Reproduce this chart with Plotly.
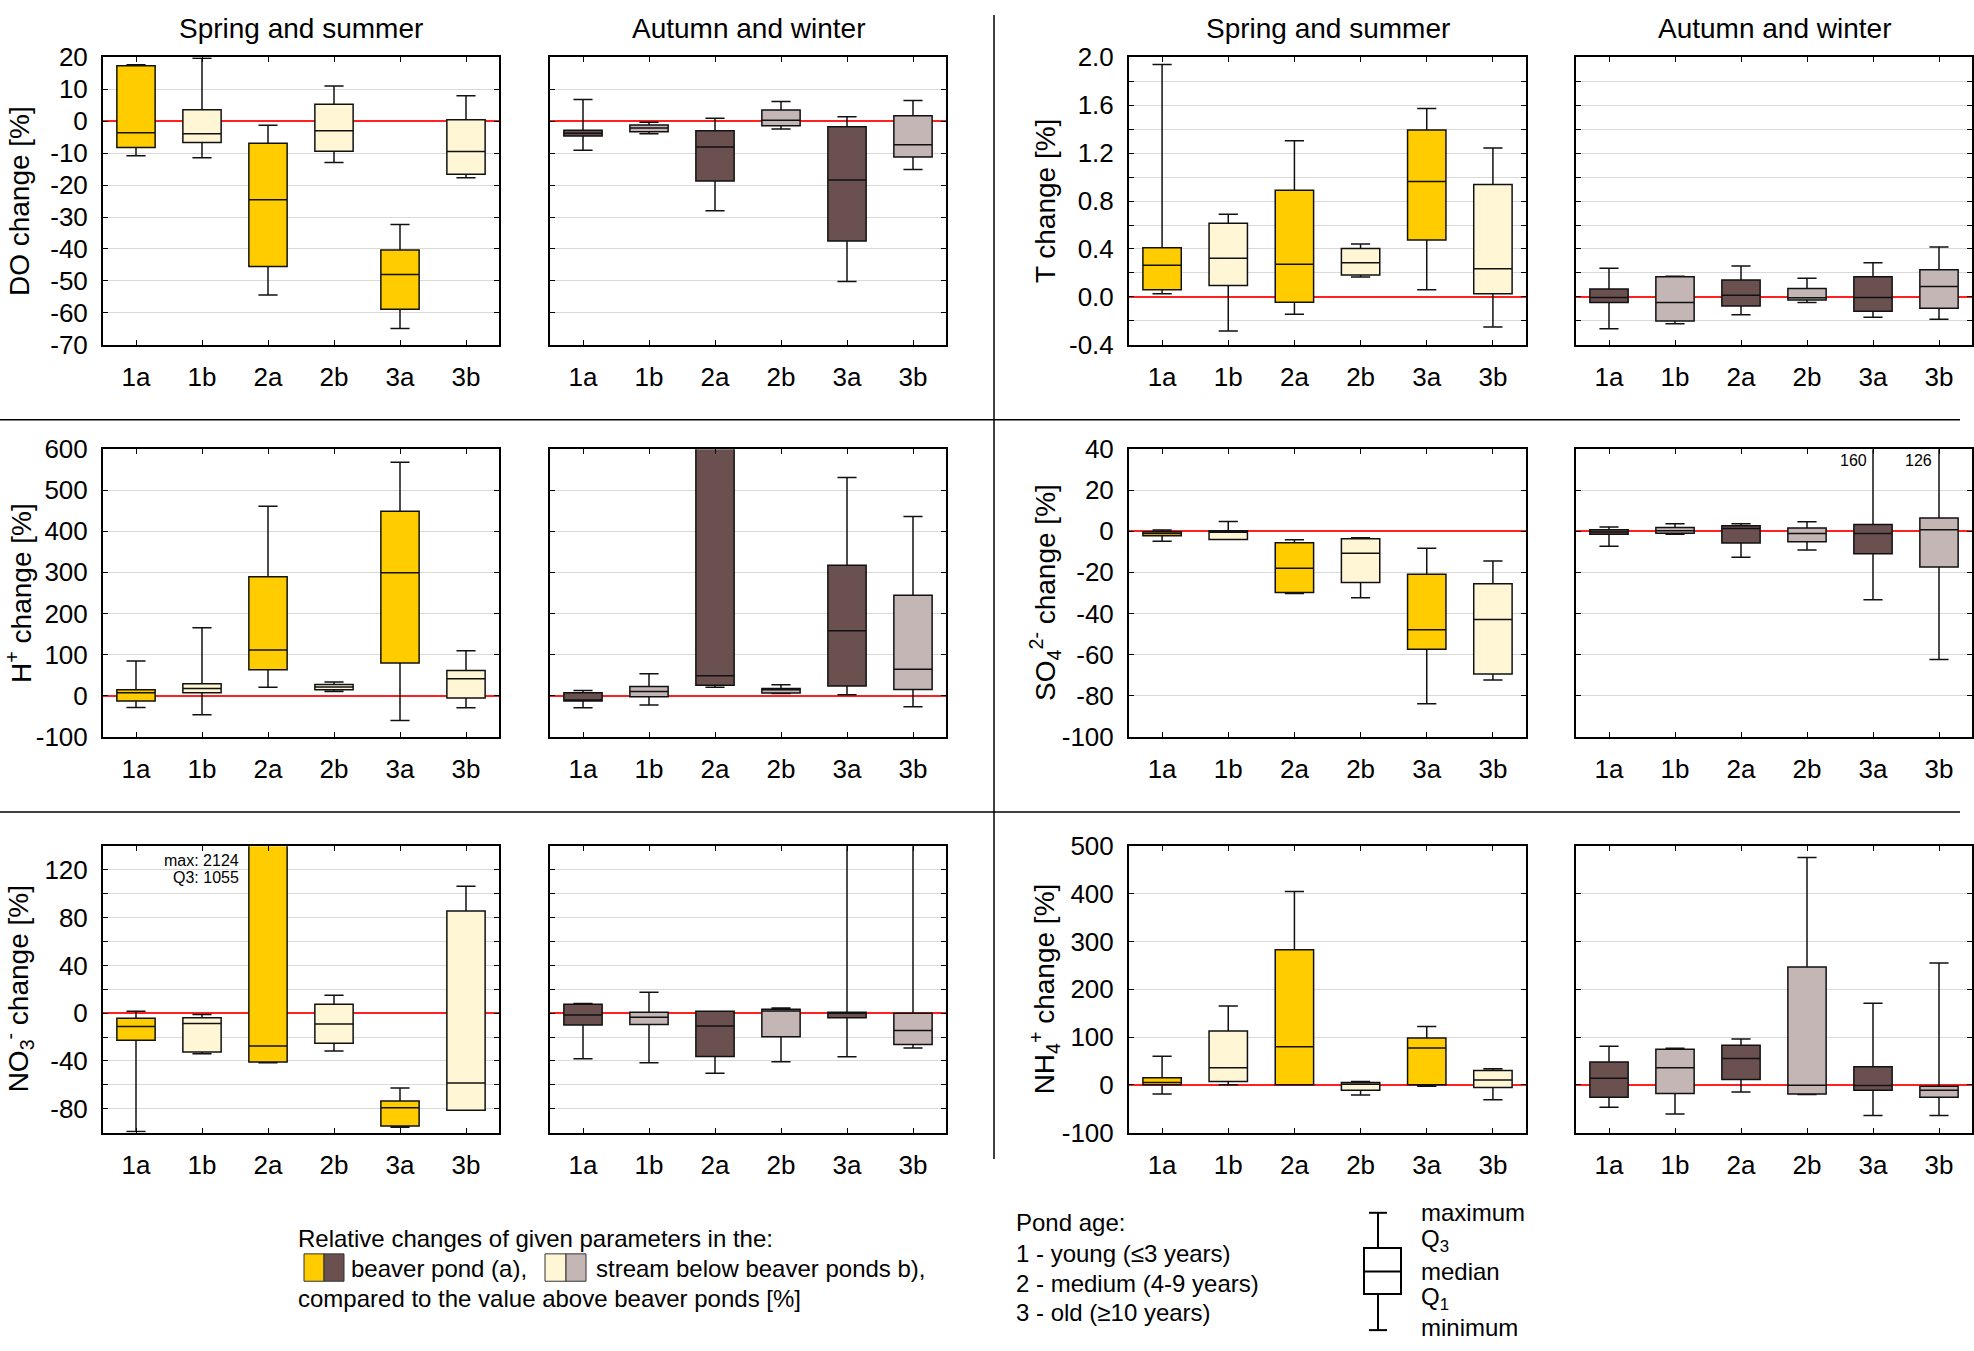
import plotly.graph_objects as go

W, H = 1974, 1351
FONT = "Arial, Liberation Sans, Helvetica, sans-serif"

categories = ["1a", "1b", "2a", "2b", "3a", "3b"]

# five-number summaries (min, Q1, median, Q3, max), per panel
# DO change [%]
do_ss_min = [-10.8, -11.4, -54.4, -12.9, -64.9, -17.7]
do_ss_q1 = [-8.2, -6.7, -45.5, -9.4, -58.9, -16.6]
do_ss_med = [-3.6, -3.9, -24.6, -3.0, -48.0, -9.5]
do_ss_q3 = [17.4, 3.6, -6.9, 5.3, -40.3, 0.5]
do_ss_max = [17.7, 19.7, -1.3, 11.0, -32.3, 8.0]

do_aw_min = [-9.1, -3.9, -28.0, -2.4, -50.2, -15.1]
do_aw_q1 = [-4.6, -3.3, -18.7, -1.4, -37.5, -11.2]
do_aw_med = [-3.8, -2.1, -8.1, 0.3, -18.4, -7.4]
do_aw_q3 = [-2.8, -1.2, -3.0, 3.5, -1.7, 1.7]
do_aw_max = [6.8, -0.3, 0.9, 6.2, 1.4, 6.5]

# T change [%]
t_ss_min = [0.027, -0.284, -0.145, 0.166, 0.06, -0.251]
t_ss_q1 = [0.06, 0.095, -0.044, 0.183, 0.475, 0.027]
t_ss_med = [0.265, 0.322, 0.273, 0.286, 0.963, 0.235]
t_ss_q3 = [0.41, 0.614, 0.89, 0.404, 1.394, 0.939]
t_ss_max = [1.94, 0.69, 1.304, 0.442, 1.572, 1.244]

t_aw_min = [-0.265, -0.224, -0.15, -0.046, -0.169, -0.186]
t_aw_q1 = [-0.046, -0.202, -0.076, -0.025, -0.12, -0.095]
t_aw_med = [-0.005, -0.046, 0.014, -0.008, -0.005, 0.087]
t_aw_q3 = [0.065, 0.169, 0.142, 0.071, 0.169, 0.226]
t_aw_max = [0.24, 0.172, 0.259, 0.156, 0.286, 0.417]

# H+ change [%]
h_ss_min = [-29, -47, 20, 10, -61, -30]
h_ss_q1 = [-13.5, 7, 63, 14, 79, -6]
h_ss_med = [7, 17, 111, 21, 299, 41]
h_ss_q3 = [14, 29, 289, 27, 449, 61]
h_ss_max = [84, 165, 461, 33, 568, 109]

h_aw_min = [-30, -23, 20, 5, 2, -27]
h_aw_q1 = [-13.5, -3, 25, 6, 23, 15]
h_aw_med = [-11, 10, 48, 14, 158, 64]
h_aw_q3 = [7, 22, 2862, 17, 317, 244]
h_aw_max = [12, 53, 5654, 26, 531, 436]

# SO4 2- change [%]
so4_ss_min = [-4.8, -4.0, -30.3, -32.4, -84.0, -72.4]
so4_ss_q1 = [-2.2, -4.0, -29.8, -24.9, -57.5, -69.5]
so4_ss_med = [-1.1, -0.5, -18.0, -10.7, -48.0, -43.0]
so4_ss_q3 = [-0.2, 0.2, -5.6, -3.7, -20.9, -25.5]
so4_ss_max = [0.6, 4.8, -4.1, -3.2, -8.3, -14.5]

so4_aw_min = [-7.3, -1.4, -12.6, -9.1, -33.3, -62.5]
so4_aw_q1 = [-1.4, -1.0, -5.7, -5.1, -11.0, -17.4]
so4_aw_med = [-0.3, 0.3, 1.3, -1.1, -1.1, 0.8]
so4_aw_q3 = [0.8, 1.8, 2.7, 1.6, 3.3, 6.5]
so4_aw_max = [2.1, 3.7, 3.7, 4.6, 160, 126]

# NO3- change [%]
no3_ss_min = [-99.0, -34.0, -41.5, -31.6, -95.4, -81.3]
no3_ss_q1 = [-22.6, -32.5, -40.9, -25.1, -94.4, -81.3]
no3_ss_med = [-11.2, -8.5, -27.5, -9.0, -79.1, -58.4]
no3_ss_q3 = [-4.1, -3.8, 1055, 7.6, -73.6, 85.6]
no3_ss_max = [1.6, -1.1, 2124, 15.0, -62.7, 106.4]

no3_aw_min = [-38.2, -41.5, -50.2, -40.6, -36.5, -29.2]
no3_aw_q1 = [-9.8, -9.5, -36.3, -19.6, -3.8, -26.2]
no3_aw_med = [-1.4, -3.3, -10.6, 1.9, 0.3, -14.5]
no3_aw_q3 = [7.6, 0.8, 1.6, 3.3, 0.8, 0.0]
no3_aw_max = [8.2, 17.5, 1.6, 4.4, 160, 160]

# NH4+ change [%]
nh4_ss_min = [-19, 0, 0, -21, -3, -31]
nh4_ss_q1 = [0, 7, 0, -11, 0, -5.5]
nh4_ss_med = [5, 36, 80, 1.4, 77, 10]
nh4_ss_q3 = [15, 113, 283, 5, 98, 30]
nh4_ss_max = [60, 165, 405, 7, 122, 34]

nh4_aw_min = [-47, -61, -15, -20, -64, -64]
nh4_aw_q1 = [-26, -18, 11, -19, -11, -26]
nh4_aw_med = [14, 36, 55, -1, -1.4, -11]
nh4_aw_q3 = [48, 74.5, 83, 247, 38, -3]
nh4_aw_max = [81, 76.5, 96, 476, 171, 255]

# axis setup per parameter: range, gridline step, label step, label format
axis_specs = {
    "do": dict(title="DO change [%]", rng=(-70, 20), grid=10, lab=10, fmt="{:g}"),
    "t": dict(title="T change [%]", rng=(-0.4, 2.0), grid=0.2, lab=0.4, fmt="{:.1f}"),
    "h": dict(title="H<sup>+</sup> change [%]", rng=(-100, 600), grid=100, lab=100, fmt="{:g}"),
    "so4": dict(title="SO<sub>4</sub><sup>2-</sup> change [%]", rng=(-100, 40), grid=20, lab=20, fmt="{:g}"),
    "no3": dict(title="NO<sub>3</sub><sup>-</sup> change [%]", rng=(-100, 140), grid=20, lab=40, fmt="{:g}"),
    "nh4": dict(title="NH<sub>4</sub><sup>+</sup> change [%]", rng=(-100, 500), grid=100, lab=100, fmt="{:g}"),
}

ns = globals()
panels = []
for row, (left, right) in enumerate([("do", "t"), ("h", "so4"), ("no3", "nh4")]):
    for half, key in enumerate([left, right]):
        for season in ("ss", "aw"):
            panels.append(dict(
                key=key, row=row, col=half * 2 + (season == "aw"), season=season,
                stats=[ns[f"{key}_{season}_{s}"] for s in ("min", "q1", "med", "q3", "max")],
            ))

YELLOW, CREAM, BROWN, MAUVE = "#ffcc00", "#fff6d6", "#6b5050", "#c5b6b6"
col_px = [(103, 499), (550, 946), (1129, 1526), (1576, 1972)]
row_px = [(43.3, 337.3), (444, 738), (850, 1143)]


def px(x):
    return x / W


def py(y):
    return 1 - y / H


fig = go.Figure()
layout = {}
for n, p in enumerate(panels, start=1):
    spec = axis_specs[p["key"]]
    xa, ya = ("x", "y") if n == 1 else (f"x{n}", f"y{n}")
    mn, q1, md, q3, mx = p["stats"]
    fills = (YELLOW, CREAM) if p["season"] == "ss" else (BROWN, MAUVE)
    for start, fill in zip((0, 1), fills):
        idx = list(range(start, 6, 2))
        fig.add_trace(go.Box(
            x=[categories[i] for i in idx],
            q1=[q1[i] for i in idx], median=[md[i] for i in idx], q3=[q3[i] for i in idx],
            lowerfence=[mn[i] for i in idx], upperfence=[mx[i] for i in idx],
            fillcolor=fill, line=dict(color="#111111", width=1.5),
            width=0.58, whiskerwidth=0.5, boxpoints=False,
            xaxis=xa, yaxis=ya, showlegend=False,
        ))

    lo, hi = spec["rng"]
    steps = int(round((hi - lo) / spec["grid"]))
    grid_vals = [round(lo + i * spec["grid"], 4) for i in range(steps + 1)]
    if p["key"] == "t":
        major = grid_vals[::2]
    else:
        major = [v for v in grid_vals if abs(v / spec["lab"] - round(v / spec["lab"])) < 1e-6]
    minor_vals = [v for v in grid_vals if v not in major]
    texts = [spec["fmt"].format(v).replace("-0.0", "0.0") for v in major]

    x0, x1 = col_px[p["col"]]
    y0, y1 = row_px[p["row"]]
    axis_common = dict(
        showline=True, linecolor="black", linewidth=2, mirror="ticks",
        ticks="inside", ticklen=5, tickwidth=1.2, tickcolor="black",
        tickfont=dict(family=FONT, size=26, color="black"), fixedrange=True,
    )
    layout["xaxis" if n == 1 else f"xaxis{n}"] = dict(
        axis_common, domain=[px(x0), px(x1)], anchor=ya, type="category",
        categoryorder="array", categoryarray=categories, range=[-0.5, 5.5],
        showgrid=False, ticklabelstandoff=8,
    )
    yax = dict(
        axis_common, domain=[py(y1), py(y0)], anchor=xa, range=[lo, hi],
        tickmode="array", tickvals=major, ticktext=texts,
        showticklabels=p["season"] == "ss", ticklabelstandoff=8,
        showgrid=True, gridcolor="#d9d9d9", gridwidth=1,
        zeroline=True, zerolinecolor="#ff2020", zerolinewidth=2,
    )
    if minor_vals:
        yax["minor"] = dict(tickmode="array", tickvals=minor_vals, ticks="inside", ticklen=5,
                            tickwidth=1.2, tickcolor="black", showgrid=True,
                            gridcolor="#d9d9d9", gridwidth=1)
    layout["yaxis" if n == 1 else f"yaxis{n}"] = yax

annotations = []
# column titles
for c, t in enumerate(["Spring and summer", "Autumn and winter"] * 2):
    x0, x1 = col_px[c]
    annotations.append(dict(text=t, x=px((x0 + x1) / 2), y=py(14), xref="paper", yref="paper",
                            showarrow=False, xanchor="center", yanchor="middle",
                            font=dict(family=FONT, size=28, color="black")))
# y-axis titles
for n, p in enumerate(panels, start=1):
    if p["season"] != "ss":
        continue
    y0, y1 = row_px[p["row"]]
    annotations.append(dict(text=axis_specs[p["key"]]["title"], textangle=-90,
                            x=px(19 if p["col"] == 0 else 1045), y=py((y0 + y1) / 2),
                            xref="paper", yref="paper", showarrow=False,
                            xanchor="center", yanchor="middle",
                            font=dict(family=FONT, size=28, color="black")))

# notes for values beyond the axis range
small = dict(family=FONT, size=16, color="black")
notes = [
    (4, "2a", 563, "max: 5654", -27), (4, "2a", 520, "Q3: 2862", -27),
    (9, "2a", 128, "max: 2124", -27), (9, "2a", 114, "Q3: 1055", -27),
    (8, "3a", 34.5, "160", -4), (8, "3b", 34.5, "126", -5),
]
for n, cat, yv, txt, shift in notes:
    annotations.append(dict(text=txt, x=cat, y=yv, xref=f"x{n}", yref=f"y{n}",
                            showarrow=False, xanchor="right", yanchor="middle",
                            xshift=shift, font=small))

# legend text
legend_font = dict(family=FONT, size=24, color="black")
legend_lines = [
    (296, 1251, "Relative changes of given parameters in the:"),
    (349, 1282, "beaver pond (a),"),
    (594, 1282, "stream below beaver ponds b),"),
    (296, 1313, "compared to the value above beaver ponds [%]"),
    (1014, 1235, "Pond age:"),
    (1014, 1267, "1 - young (≤3 years)"),
    (1014, 1297, "2 - medium (4-9 years)"),
    (1014, 1327, "3 - old (≥10 years)"),
    (1419, 1225, "maximum"),
    (1419, 1253, "Q<sub>3</sub>"),
    (1419, 1285, "median"),
    (1419, 1313, "Q<sub>1</sub>"),
    (1419, 1342, "minimum"),
]
for x, y, t in legend_lines:
    annotations.append(dict(text=t, x=px(x), y=py(y), xref="paper", yref="paper",
                            showarrow=False, xanchor="left", yanchor="middle", font=legend_font))

shapes = []
# separators between the panel groups
shapes.append(dict(type="line", x0=px(994), x1=px(994), y0=py(0), y1=py(1170),
                   line=dict(color="black", width=1.5)))
for yy in (414, 815):
    shapes.append(dict(type="line", x0=0, x1=px(1960), y0=py(yy), y1=py(yy),
                       line=dict(color="black", width=1.5)))
# colour swatches
for (a, b), col in zip([(304, 324), (324, 344), (545, 566), (566, 586)],
                       [YELLOW, BROWN, CREAM, MAUVE]):
    shapes.append(dict(type="rect", x0=px(a), x1=px(b), y0=py(1295), y1=py(1267),
                       fillcolor=col, line=dict(color="#333333", width=1)))
# box-plot key
key_line = dict(color="black", width=2)
shapes += [
    dict(type="line", x0=px(1378), x1=px(1378), y0=py(1225), y1=py(1261), line=key_line),
    dict(type="line", x0=px(1378), x1=px(1378), y0=py(1308), y1=py(1345), line=key_line),
    dict(type="line", x0=px(1369), x1=px(1387), y0=py(1225), y1=py(1225), line=key_line),
    dict(type="line", x0=px(1369), x1=px(1387), y0=py(1345), y1=py(1345), line=key_line),
    dict(type="rect", x0=px(1364), x1=px(1401), y0=py(1308), y1=py(1261), line=key_line,
         fillcolor="white"),
    dict(type="line", x0=px(1364), x1=px(1401), y0=py(1285), y1=py(1285), line=key_line),
]
for s in shapes:
    s["xref"] = "paper"
    s["yref"] = "paper"

fig.update_layout(
    width=W, height=H, autosize=False,
    margin=dict(l=0, r=0, t=0, b=0),
    paper_bgcolor="white", plot_bgcolor="white",
    font=dict(family=FONT, color="black"),
    annotations=annotations, shapes=shapes,
    boxmode="overlay",
    **layout,
)

fig.write_html("out.html", config={"displayModeBar": False},
               post_script="document.body.style.margin='0';")
